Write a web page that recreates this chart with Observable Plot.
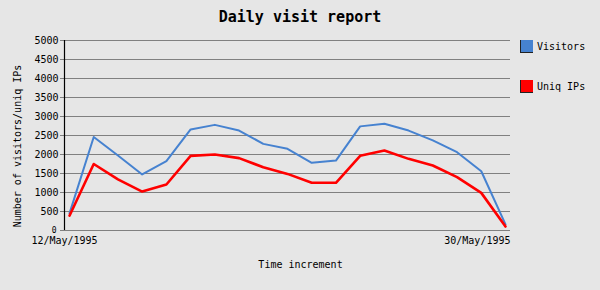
<!DOCTYPE html>
<html>
<head>
<meta charset="utf-8">
<script src="https://cdn.jsdelivr.net/npm/d3@7"></script>
<script src="https://cdn.jsdelivr.net/npm/@observablehq/plot@0.6"></script>
<style>
  html, body { margin: 0; padding: 0; background: #e6e6e6; }
  #wrap { position: relative; width: 600px; height: 290px; background: #e6e6e6; font-family: "DejaVu Sans Mono", monospace; }
  #title { height: 30px; box-sizing: border-box; padding-top: 9px; text-align: center; font-size: 15px; font-weight: bold; line-height: 17px; color: #000; }
  #ylabel { position: absolute; left: 18px; top: 146px; transform: translate(-50%, -50%) rotate(-90deg); white-space: nowrap; font-size: 10px; line-height: 12px; color: #000; }
  .leg { position: absolute; left: 520px; font-size: 10px; display: flex; align-items: center; color: #000; }
  .sw { width: 12px; height: 12px; border-left: 1px solid #222; border-bottom: 1px solid #222; margin-right: 4px; }
</style>
</head>
<body>
<div id="wrap">
  <div id="title"></div>
  <div id="chart"></div>
  <div id="ylabel"></div>
</div>
<script>
const titleText = "Daily visit report";
const days = ["1995-05-12","1995-05-13","1995-05-14","1995-05-15","1995-05-16","1995-05-17","1995-05-18","1995-05-19","1995-05-20","1995-05-21","1995-05-22","1995-05-23","1995-05-24","1995-05-25","1995-05-26","1995-05-27","1995-05-28","1995-05-29","1995-05-30"];
const visitors = [450, 2460, 1975, 1475, 1825, 2660, 2780, 2630, 2280, 2150, 1780, 1840, 2740, 2810, 2630, 2370, 2060, 1560, 160];
const uniqIPs  = [390, 1750, 1345, 1025, 1210, 1965, 2000, 1905, 1665, 1490, 1255, 1255, 1965, 2105, 1885, 1710, 1405, 990, 105];
const seriesNames = ["Visitors", "Uniq IPs"];
const seriesColors = ["#4682d0", "#ff0000"];
const xTickLabels = ["12/May/1995", "30/May/1995"];
const yTicks = [0, 500, 1000, 1500, 2000, 2500, 3000, 3500, 4000, 4500, 5000];
const yLabel = "Number of visitors/uniq IPs";
const xLabel = "Time increment";

document.getElementById("title").textContent = titleText;
document.getElementById("ylabel").textContent = yLabel;

const dates = days.map(d => new Date(d + "T00:00:00Z"));
const rows = [];
dates.forEach((d, i) => {
  rows.push({date: d, value: visitors[i], series: seriesNames[0]});
  rows.push({date: d, value: uniqIPs[i], series: seriesNames[1]});
});
const dayMs = 86400000;
const pad = 0.207 * dayMs;
const xDomain = [new Date(+dates[0] - pad), new Date(+dates[dates.length - 1] + pad)];

const chart = Plot.plot({
  width: 600,
  height: 260,
  marginTop: 10,
  marginBottom: 60,
  marginLeft: 64,
  marginRight: 90,
  style: {background: "transparent", fontFamily: "DejaVu Sans Mono", fontSize: "10px", color: "#000", overflow: "visible"},
  x: {type: "utc", domain: xDomain, axis: null},
  y: {domain: [0, 5000], axis: null},
  marks: [
    Plot.gridY(yTicks, {stroke: "#808080", strokeOpacity: 1}),
    Plot.axisY(yTicks.filter(t => t > 0), {tickSize: 4, tickPadding: 2, stroke: "#808080", label: null, tickFormat: d => String(d)}),
    Plot.axisY([0], {tickSize: 4, tickPadding: 4, stroke: "#808080", label: null, fontSize: 8, dy: 0, tickFormat: d => String(d)}),
    Plot.ruleX([xDomain[0]], {stroke: "#000", strokeWidth: 1.2}),
    Plot.line(rows.filter(r => r.series === seriesNames[0]), {x: "date", y: "value", stroke: seriesColors[0], strokeWidth: 2, curve: "linear"}),
    Plot.line(rows.filter(r => r.series === seriesNames[1]), {x: "date", y: "value", stroke: seriesColors[1], strokeWidth: 2.6, curve: "linear"}),
    Plot.text([xTickLabels[0]], {text: d => d, frameAnchor: "bottom-left", textAnchor: "middle", dy: 13, fill: "#000"}),
    Plot.text([xTickLabels[1]], {text: d => d, frameAnchor: "bottom-right", textAnchor: "end", dy: 13, fill: "#000"}),
    Plot.text([xLabel], {text: d => d, frameAnchor: "bottom", dx: 13, dy: 37, fill: "#000"})
  ]
});
document.getElementById("chart").appendChild(chart);

// Legend
const wrap = document.getElementById("wrap");
const legTops = [40, 80];
seriesNames.forEach((name, i) => {
  const el = document.createElement("div");
  el.className = "leg";
  el.style.top = legTops[i] + "px";
  const sw = document.createElement("div");
  sw.className = "sw";
  sw.style.background = seriesColors[i];
  const t = document.createElement("span");
  t.textContent = name;
  el.appendChild(sw);
  el.appendChild(t);
  wrap.appendChild(el);
});
</script>
</body>
</html>
